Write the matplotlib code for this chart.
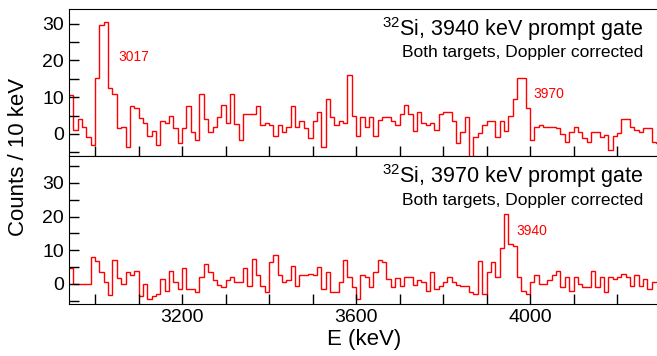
import numpy as np
import matplotlib
matplotlib.use("Agg")
import matplotlib.pyplot as plt
from matplotlib.ticker import MultipleLocator

plt.rcParams["font.family"] = ["Liberation Sans", "DejaVu Sans"]
plt.rcParams["mathtext.default"] = "regular"

# 10 keV bins starting at 2940 keV
e_start = 2940
bin_width = 10

# gate on 3940 keV
gate_3940 = [
    10.5, 1.1, 4.0, 2.0, -0.9, -3.1, 15.1, 29.7, 30.6, 12.5,
    10.9, 1.5, 1.9, -3.5, 7.5, 7.0, 4.3, 2.9, -0.5, 0.9,
    -3.1, 3.5, 3.0, 5.0, 1.5, -2.5, 1.5, 7.5, 0.5, -1.6,
    11.0, 4.2, 0.5, 1.8, 4.5, 8.0, 2.9, 11.0, 2.7, -1.6,
    5.5, 5.5, 5.5, 7.5, 2.4, 2.9, 2.4, -0.5, 2.4, 0.5,
    1.9, 7.5, 1.9, 3.4, 1.5, -1.0, 3.4, 5.9, -3.5, 9.5,
    4.5, 2.4, 3.4, 2.9, 16.0, 5.0, -0.5, 4.5, 1.9, 4.5,
    -0.5, 3.9, 4.5, 4.5, 3.4, 2.4, 5.5, 8.0, 5.5, 0.9,
    5.9, 2.9, 2.4, 2.9, 1.0, 5.5, 5.9, 6.0, 3.4, -2.5,
    0.5, 4.5, -8.0, -0.7, 0.2, 2.5, 3.6, 3.6, -0.7, 3.6,
    0.9, 4.9, 9.6, 15.1, 15.1, 7.0, -1.6, 2.0, 2.4, 2.0,
    1.8, 1.8, 1.6, -0.1, -2.1, 0.6, 2.0, 0.4, -1.2, -2.1,
    0.6, 0.4, -0.7, -0.3, -4.5, -0.5, 0.2, 4.0, 4.0, 2.0,
    1.1, 0.5, 1.5, 1.5, -2.1, -2.5,
]

# gate on 3970 keV
gate_3970 = [
    4.6, 0.0, 0.0, 0.0, 0.0, 7.9, 6.9, 3.4, 0.5, -3.4,
    7.0, 1.7, 0.0, 3.4, 2.5, 3.9, -3.7, 0.0, -4.5, -3.7,
    -3.0, 1.5, -2.0, 3.9, 0.5, -1.5, 4.6, -1.5, -1.5, -2.5,
    2.0, 5.9, 3.4, 1.0, -0.3, -1.0, 1.0, 2.0, 0.5, 0.5,
    4.6, -0.5, 7.5, 2.5, -0.6, -2.5, 6.4, 8.5, 2.5, 0.5,
    1.0, 5.4, -0.5, 2.5, 2.5, 3.0, 2.5, 4.9, -1.5, 3.4,
    -2.5, -2.5, 0.5, 7.1, 2.0, -1.0, -4.4, 2.5, 2.0, -1.0,
    3.4, 7.1, 6.4, 1.5, -1.0, 1.8, -0.5, 2.0, 2.0, -0.3,
    1.0, 0.5, -2.0, 3.4, -1.5, -0.5, 0.4, 2.0, 0.5, -0.2,
    -0.5, -0.5, -2.5, -3.1, 6.9, -3.0, 3.5, 6.4, 2.0, 10.8,
    20.9, 11.8, 11.3, 2.0, -2.0, -3.0, 0.5, 2.5, 0.0, 0.0,
    1.0, 2.5, 3.9, -1.0, 2.0, -2.0, 2.0, 0.0, -1.0, -1.0,
    3.9, -1.0, 2.0, -2.5, 2.0, 1.5, 2.0, 3.0, 2.0, -0.5,
    2.5, -0.5, 1.5, -1.5, 0.5, 0.5,
]

titles = ["$^{32}$Si, 3940 keV prompt gate", "$^{32}$Si, 3970 keV prompt gate"]
subtitle = "Both targets, Doppler corrected"
peak_labels = [("3017", 3053, 19.9), ("3970", 4008, 9.7)], [("3940", 3969, 14.5)]

fig = plt.figure(figsize=(6.57, 3.56), dpi=100)
ax_top = fig.add_axes([0.105, 0.5618, 0.897, 0.4129])
ax_bot = fig.add_axes([0.105, 0.146, 0.897, 0.4158], sharex=ax_top)

for ax, counts, title, labels, ylim in zip(
    [ax_top, ax_bot], [gate_3940, gate_3970], titles, peak_labels,
    [(-6, 34), (-6, 38)]
):
    edges = e_start + bin_width * np.arange(len(counts) + 1)
    ax.stairs(counts, edges, baseline=None, color="red", lw=1.0)
    ax.set_xlim(2940, 4295)
    ax.set_ylim(*ylim)
    ax.yaxis.set_major_locator(MultipleLocator(10))
    ax.yaxis.set_minor_locator(MultipleLocator(5))
    ax.xaxis.set_major_locator(MultipleLocator(400))
    ax.xaxis.set_minor_locator(MultipleLocator(100))
    ax.tick_params(which="both", direction="in", labelsize=14, width=1,
                   top=False, right=False)
    ax.tick_params(which="major", length=7)
    ax.tick_params(which="minor", length=7)
    ax.spines["right"].set_visible(False)
    ax.text(0.974, 0.816, title, transform=ax.transAxes, ha="right",
            va="baseline", fontsize=15.5)
    ax.text(0.974, 0.672, subtitle, transform=ax.transAxes, ha="right",
            va="baseline", fontsize=12.5)
    for txt, x, y in labels:
        ax.text(x, y, txt, color="red", fontsize=10, ha="left", va="baseline")

ax_top.tick_params(labelbottom=False)
ax_bot.set_xlabel("E (keV)", fontsize=16, labelpad=2)
fig.text(0.028, 0.56, "Counts / 10 keV", rotation=90, ha="center", va="center",
         fontsize=16)

fig.savefig("out.png", dpi=100)
